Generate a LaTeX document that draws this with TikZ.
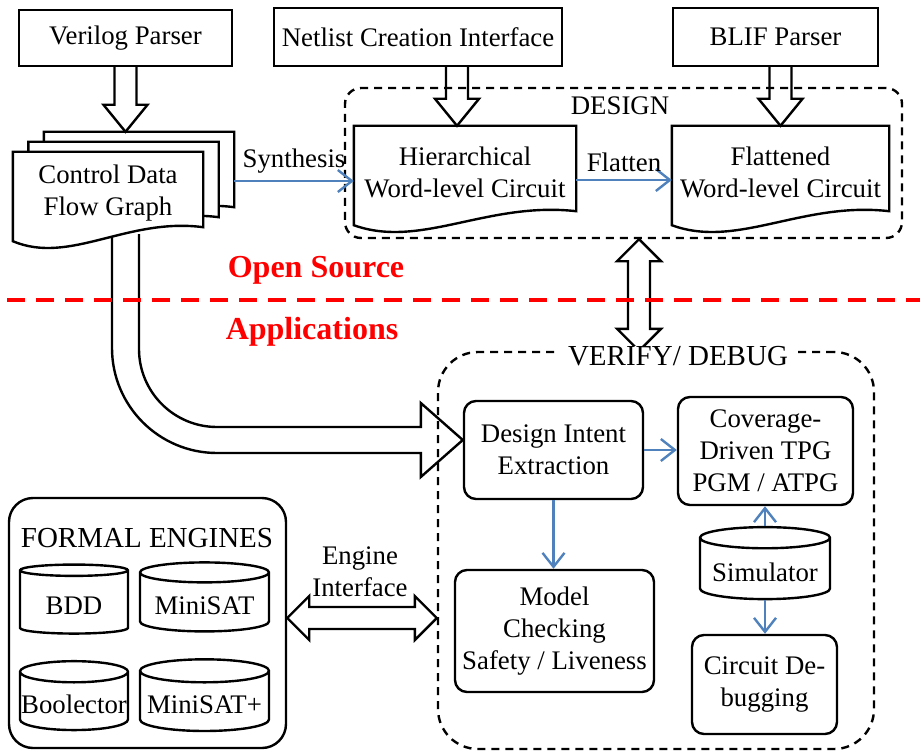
\documentclass[tikz,border=0pt]{standalone}
\usepackage{fontspec}
\setmainfont{Liberation Serif}
\usetikzlibrary{calc,shapes.geometric,arrows.meta,backgrounds}
\definecolor{flowblue}{HTML}{4F81BD}

% hollow block arrow pointing down, from #1 to #2 (named coordinates)
\newcommand\fatdown[2]{%
  \draw[fatarrow] ($(#1)+(-11,0)$) -- ($(#2)+(-11,-27)$) -- ++(-11,0) -- (#2)
    -- ++(22,-27) -- ++(-11,0) -- ($(#1)+(11,0)$);}

% document outline with wavy bottom edge
\newcommand\docwave[1]{%
  \draw[fill=white,line width=1.2pt] ($(#1.south east)+(0,-7)$) -- (#1.north east) -- (#1.north west)
    -- ($(#1.south west)+(0,7)$)
    .. controls ($(#1.south west)!0.3!(#1.south east)+(0,31)$)
    and ($(#1.south west)!0.6!(#1.south east)+(0,-17)$) .. ($(#1.south east)+(0,-7)$) -- cycle;}

\begin{document}
\begin{tikzpicture}[x=0.5pt,y=-0.5pt,line width=1.2pt,
  font=\fontsize{13.4}{16}\selectfont,
  plain box/.style={draw,align=center,inner sep=2pt},
  round box/.style={draw,rounded corners=6pt,align=center,inner sep=2pt},
  doc box/.style={align=center,inner sep=0pt,minimum height=45pt},
  store/.style={cylinder,shape border rotate=90,draw,aspect=0.2,inner sep=0pt,align=center,
    text height=15pt,text depth=3pt},
  group box/.style={draw,dash pattern=on 4pt off 3pt},
  flow/.style={draw=flowblue,line width=1.2pt,-{Straight Barb[length=7pt,width=11pt]}},
  fatarrow/.style={draw,line width=1.2pt,line join=miter},
  head text/.style={font=\fontsize{14.5}{17}\selectfont},
  side text/.style={text=red,font=\fontsize{16}{19}\selectfont\bfseries}]

  \useasboundingbox (0,0) rectangle (920,754);

  % sources
  \node[plain box,minimum width=106.5pt,minimum height=28pt] (verilog) at (125.5,38) {Verilog Parser};
  \node[plain box,minimum width=144pt,minimum height=29pt] (netlist) at (418,37) {Netlist Creation Interface};
  \node[plain box,minimum width=102.5pt,minimum height=29pt] (blif) at (775.5,37) {BLIF Parser};

  % control data flow graph stack
  \node[doc box,minimum width=94pt,minimum height=40pt] (cdfg3) at (139,173) {};
  \node[doc box,minimum width=94pt,minimum height=40pt] (cdfg2) at (123.5,183) {};
  \node[doc box,minimum width=94pt,minimum height=40pt] (cdfg) at (108,193) {Control Data\\Flow Graph};

  % design
  \node[doc box,minimum width=110pt] (hier) at (465,172) {Hierarchical\\Word-level Circuit};
  \node[doc box,minimum width=107.5pt] (flat) at (780.5,172) {Flattened\\Word-level Circuit};

  \coordinate (v1) at (verilog.south);
  \coordinate (v2) at (verilog.south |- cdfg3.north);
  \coordinate (n2) at ($(hier.north)+(-8,0)$);
  \coordinate (n1) at (n2 |- netlist.south);
  \coordinate (b2) at (flat.north);
  \coordinate (b1) at (b2 |- blif.south);
  \fatdown{v1}{v2}
  \fatdown{n1}{n2}
  \fatdown{b1}{b2}

  \node[group box,rounded corners=8pt,minimum width=278.5pt,minimum height=75pt] (design) at (623.5,163) {};
  \node (designlbl) at (620,106) {DESIGN};

  \draw[flow] ($(cdfg3.east)+(0,8)$) coordinate (s1) -- node[above] {Synthesis} (s1 -| hier.west);
  \draw[flow] ($(hier.east)+(0,8)$) coordinate (f1) -- node[above] {Flatten} (f1 -| flat.west);

  % open source / applications split
  \coordinate (divl) at (7,300);
  \coordinate (divr) at (920,300);
  \node[side text] (opensrc) at (316,270) {Open Source};
  \node[side text] (apps) at (312,332) {Applications};

  % verify / debug
  \node[round box,minimum width=89.5pt,minimum height=49pt] (die) at (553.5,450) {Design Intent\\Extraction};
  \node[round box,minimum width=87.5pt,minimum height=54pt] (cov) at (765.5,451) {Coverage-\\Driven TPG\\PGM / ATPG};
  \node[round box,minimum width=99.5pt,minimum height=61pt] (mc) at (554.5,631) {Model\\Checking\\Safety / Liveness};
  \node[store,minimum width=65pt,minimum height=36pt] (sim) at (765,569) {Simulator};
  \node[round box,minimum width=72.5pt,minimum height=49.5pt] (dbg) at (764.5,684.5) {Circuit De-\\bugging};

  \node[group box,rounded corners=20pt,minimum width=218pt,minimum height=198.5pt] (verify) at (656,550.5) {};

  \draw[flow] (die.east) -- (die.east -| cov.west);
  \draw[flow] (die.south) -- (die.south |- mc.north);
  \draw[flow] (sim.north) -- (sim.north |- cov.south);
  \draw[flow] (sim.south) -- (sim.south |- dbg.north);

  % design <-> verify
  \coordinate (dtop) at ($(design.south)+(15.5,0)$);
  \coordinate (dbot) at (dtop |- verify.north);
  \draw[fatarrow] (dtop) -- ++(22,22) -- ++(-11,0) -- ($(dbot)+(11,-22)$) -- ++(11,0) -- (dbot)
    -- ++(-22,-22) -- ++(11,0) -- ($(dtop)+(-11,22)$) -- ++(-11,0) -- cycle;
  \draw[red,line width=2pt,dash pattern=on 9pt off 5.5pt] (divl) -- (divr);
  \node[head text,fill=white,inner xsep=5pt,inner ysep=0pt] (verifylbl) at (678,356) {VERIFY/ DEBUG};

  % formal engines
  \node[draw,rounded corners=12pt,minimum width=138.5pt,minimum height=125pt] (formal) at (147.5,623) {};
  \node[head text] (formallbl) at (147,538) {FORMAL ENGINES};
  \node[store,minimum width=54pt,minimum height=34.5pt] (bdd) at (74,602.5) {BDD};
  \node[store,minimum width=64.5pt,minimum height=34.5pt] (minisat) at (204.5,602.5) {MiniSAT};
  \node[store,minimum width=54pt,minimum height=33.5pt] (boolector) at (74,701.5) {Boolector};
  \node[store,minimum width=64.5pt,minimum height=33.5pt] (minisatp) at (204.5,701.5) {MiniSAT+};

  % engine interface
  \coordinate (el) at ($(formal.east)+(0,-5)$);
  \coordinate (er) at (el -| verify.west);
  \draw[fatarrow] (el) -- ++(22,-22) -- ++(0,11) -- ($(er)+(-22,-11)$) -- ++(0,-11) -- (er)
    -- ++(-22,22) -- ++(0,-11) -- ($(el)+(22,11)$) -- ++(0,11) -- cycle;
  \node[align=center] (englbl) at (360,572) {Engine\\Interface};

  \begin{scope}[on background layer]
    \coordinate (tip) at ($(die.west)+(0,-10)$);
    \coordinate (root) at (verilog.south |- cdfg.south);
    \draw[fatarrow,fill=white] ($(root)+(-13.5,0)$) -- ($(root |- tip)+(-13.5,-92)$)
      arc[start angle=180,end angle=90,radius=105] -- ($(tip)+(-42,13)$) -- ++(0,24) -- (tip)
      -- ++(-42,-37) -- ++(0,24) -- ($(root |- tip)+(91.5,-13)$)
      arc[start angle=90,end angle=180,radius=78] -- ($(root)+(13.5,0)$);
    \docwave{cdfg3}
    \docwave{cdfg2}
    \docwave{cdfg}
    \docwave{hier}
    \docwave{flat}
  \end{scope}
\end{tikzpicture}
\end{document}
